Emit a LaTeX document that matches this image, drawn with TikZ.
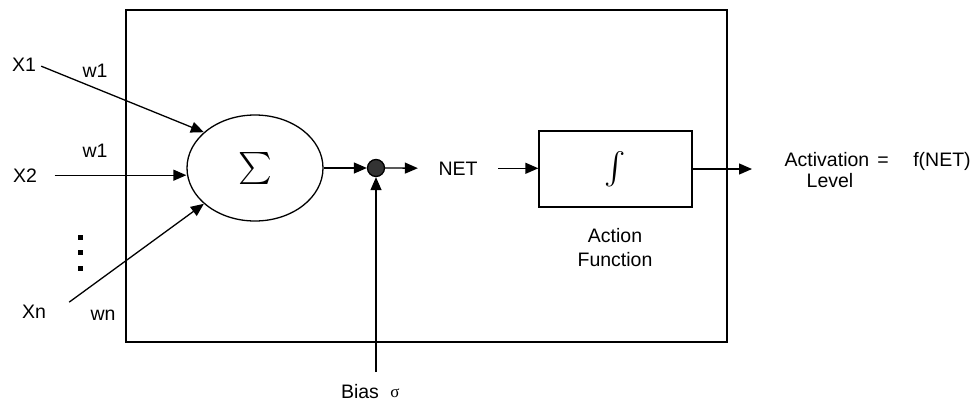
\documentclass[tikz,border=0pt]{standalone}
\usepackage{fontspec}
\setmainfont{Liberation Sans}
\newfontfamily\greekfont{Liberation Serif}
\usetikzlibrary{arrows.meta, shapes.geometric}

\tikzset{
  lbl/.style={font=\fontsize{19.5}{22}\selectfont, anchor=base, inner sep=0pt},
  link/.style={line width=1.3pt, -{Triangle[length=13pt,width=11pt]}},
}

\begin{document}
\begin{tikzpicture}[x=1pt, y=-1pt, line width=1.3pt]
  \useasboundingbox (0,0) rectangle (975,402);
  % Neuron body
  \draw (126,10) rectangle (727,342);
  % Summation and bias junction
  \node[draw, ellipse, minimum width=136, minimum height=106, inner sep=0pt] (sum) at (255,168) {\scalebox{3.2}{$\sum$}};
  \node[draw, circle, fill=black!80, minimum size=17, inner sep=0pt] (dot) at (376,168) {};
  \node[draw, minimum width=153, minimum height=76, inner sep=0pt] (act) at (615.5,169) {\scalebox{3.2}{$\int$}};
  % Inputs and weights
  \node[lbl] (x1) at (24,71) {X1};
  \node[lbl] (x2) at (25,182) {X2};
  \node[lbl] (xn) at (34,318) {Xn};
  \node[lbl] (w1) at (95,77) {w1};
  \node[lbl] (w2) at (95,157) {w1};
  \node[lbl] (wn) at (103,320) {wn};
  \foreach \y in {237,252,268}
    \fill (77.5,\y-2.5) rectangle ++(5,5);
  % Outputs
  \node[lbl] (net) at (458,175) {NET};
  \node[lbl] (fn1) at (615,242) {Action};
  \node[lbl] (fn2) at (615,266) {Function};
  \node[lbl] (actv) at (827,166) {Activation};
  \node[lbl] (lvl) at (830,187) {Level};
  \node[lbl] (eq) at (883,166) {=};
  \node[lbl] (fnet) at (942,166) {f(NET)};
  \node[lbl] (bias) at (360,398) {Bias};
  \node[anchor=base, inner sep=0pt, font=\fontsize{17}{17}\greekfont] (sig) at (395,397) {σ};
  \coordinate (out) at (752,169);
  % Connectors
  \draw[link, shorten <=5pt] (x1.east) -- (sum.145);
  \draw[link, shorten <=17pt] (x2.east) -- (x2.east -| sum.west);
  \draw[link, shorten <=28pt] (xn.south east) -- (sum.215);
  \draw[link] (sum.east) -- (dot.west);
  \draw[link, shorten >=20pt] (dot.east) -- (net.west);
  \draw[link, shorten <=20pt] (net.east) -- (net.east -| act.west);
  \draw[link] (act.east) -- (out);
  \draw[link, shorten <=11pt] (bias.north -| dot.south) -- (dot.south);
\end{tikzpicture}
\end{document}
